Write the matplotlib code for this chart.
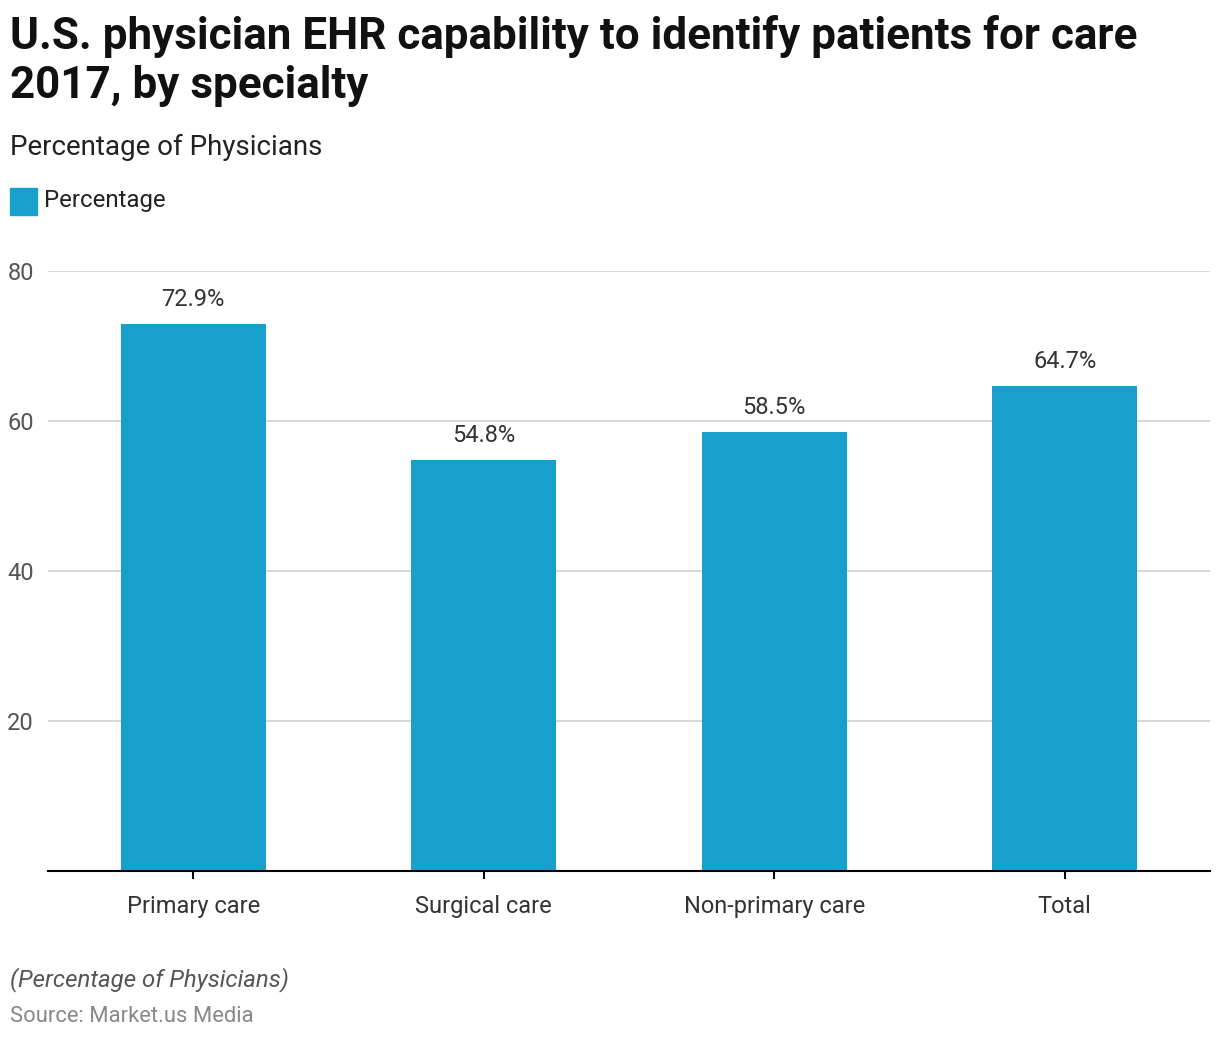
import matplotlib.pyplot as plt

plt.rcParams['font.family'] = ['Roboto', 'DejaVu Sans']

# Data
categories = ["Primary care", "Surgical care", "Non-primary care", "Total"]
values = [72.9, 54.8, 58.5, 64.7]
yticks = [20, 40, 60, 80]

bar_color = "#18A0CD"

fig = plt.figure(figsize=(12.2, 10.42), dpi=100)
ax = fig.add_axes([48/1220, 1 - 871/1042, 1162/1220, 600/1042])

bars = ax.bar(categories, values, width=0.5, color=bar_color, zorder=2)
for b, v in zip(bars, values):
    ax.text(b.get_x() + b.get_width()/2, v + 1.7, f"{v}%", ha="center", va="bottom",
            fontsize=17, color="#333333")

ax.set_xlim(-0.5, len(categories) - 0.5)
ax.set_ylim(0, 80)
ax.set_yticks(yticks)
ax.yaxis.grid(True, color="#d4d4d4", linewidth=1.3, zorder=0)
ax.set_axisbelow(True)
for s in ["top", "right", "left"]:
    ax.spines[s].set_visible(False)
ax.spines["bottom"].set_linewidth(1.5)
ax.tick_params(axis="y", length=0, labelsize=17, labelcolor="#555555", pad=10)
ax.tick_params(axis="x", length=6, width=1.5, labelsize=17, labelcolor="#333333", pad=11)

# Titles and legend
fig.text(10/1220, 1 - 36/1042, "U.S. physician EHR capability to identify patients for care",
         fontsize=31.7, fontweight="bold", va="center", color="#111111")
fig.text(10/1220, 1 - 86/1042, "2017, by specialty",
         fontsize=31.7, fontweight="bold", va="center", color="#111111")
fig.text(10/1220, 1 - 147/1042, "Percentage of Physicians", fontsize=20, va="center",
         color="#222222")
fig.patches.append(plt.Rectangle((10/1220, 1 - 215/1042), 27/1220, 27/1042,
                                 transform=fig.transFigure, color=bar_color))
fig.text(44/1220, 1 - 201/1042, "Percentage", fontsize=17.3, va="center", color="#222222")

fig.text(10/1220, 1 - 980/1042, "(Percentage of Physicians)", fontsize=17.3, style="italic",
         va="center", color="#555555")
fig.text(10/1220, 1 - 1017/1042, "Source: Market.us Media", fontsize=15.8, va="center",
         color="#888888")

fig.savefig("out.png", dpi=100)
